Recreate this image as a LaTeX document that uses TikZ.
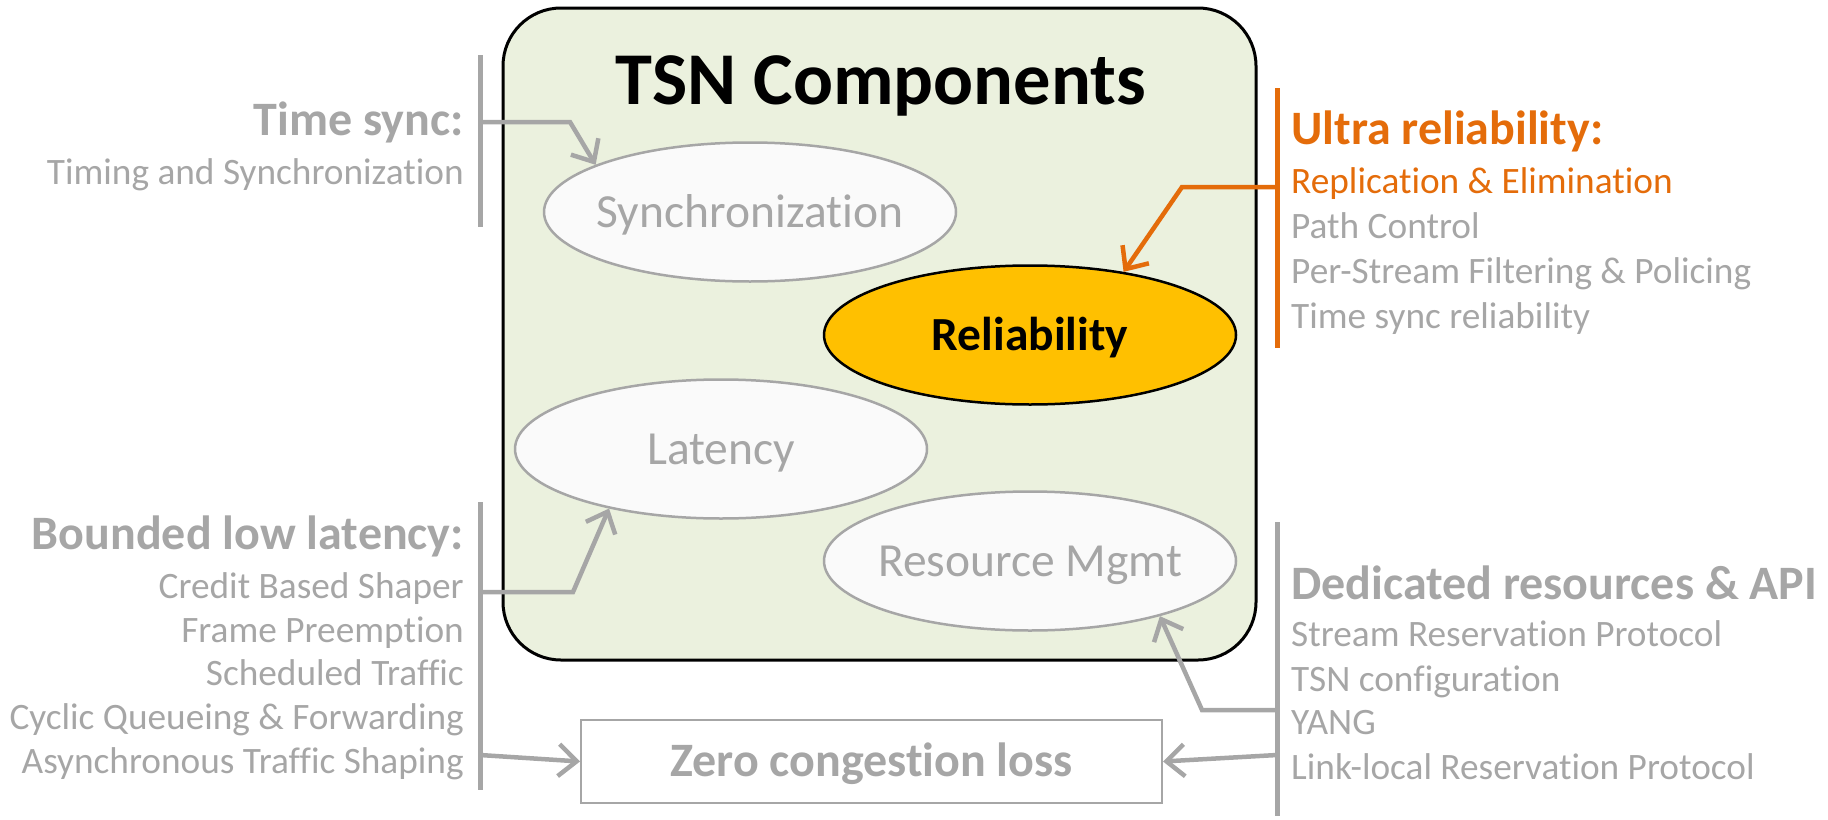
\documentclass[tikz,border=0pt]{standalone}
\usepackage{fontspec}
\setmainfont{Carlito}[Ligatures=NoCommon]
\usetikzlibrary{shapes.geometric,arrows.meta}
\definecolor{gry}{HTML}{A6A6A6}
\definecolor{org}{HTML}{E46C0A}
\definecolor{boxgreen}{HTML}{EBF1DE}
\definecolor{gold}{HTML}{FFC000}
\definecolor{ellfill}{HTML}{FAFAFA}
\begin{document}
\begin{tikzpicture}[x=1pt,y=-1pt,
  head/.style={inner sep=0pt, text height=35pt, text depth=5pt, font=\fontsize{48}{50}\selectfont\bfseries},
  item/.style={inner sep=0pt, text height=28pt, text depth=4pt, font=\fontsize{37.3}{40}\selectfont, text=gry},
  comp/.style={ellipse, draw=gry, line width=2.5pt, fill=ellfill, inner sep=0pt, minimum width=412pt, minimum height=139pt, text height=35pt, text depth=5pt, font=\fontsize{47.5}{50}\selectfont, text=gry},
  bar/.style={line width=5pt, draw=gry},
  conn/.style={line width=4.5pt, draw=gry, -{Straight Barb[length=18pt,width=32pt]}},
]
\useasboundingbox (0,0) rectangle (1828,819);

% main box
\node[draw=black, line width=3pt, fill=boxgreen, rounded corners=58pt, minimum width=753pt, minimum height=652pt] (main) at (879.5,334) {};
\node[inner sep=0pt, text height=55pt, text depth=8pt, font=\fontsize{74.5}{78}\selectfont\bfseries] (title) at (881,81) {TSN Components};

% components
\node[comp] (sync) at (750,212) {\makebox[0pt]{Synchronization}};
\node[comp, fill=gold, draw=black, text=black, font=\fontsize{47.5}{50}\selectfont\bfseries] (rel) at (1030,335) {\makebox[0pt]{Reliability}};
\node[comp] (lat) at (721,449) {\makebox[0pt]{Latency}};
\node[comp] (res) at (1030,561) {\makebox[0pt]{Resource Mgmt}};

% zero congestion loss
\node[draw=gry, line width=2pt, minimum width=581pt, minimum height=83pt, inner sep=0pt, text height=35pt, text depth=5pt, font=\fontsize{48}{50}\selectfont\bfseries, text=gry] (zero) at (871.5,761.5) {Zero congestion loss};

% bars
\coordinate (b1t) at (480,55);  \coordinate (b1b) at (480,227);
\coordinate (b2t) at (480,502); \coordinate (b2b) at (480,790);
\coordinate (b3t) at (1277,88); \coordinate (b3b) at (1277,348);
\coordinate (b4t) at (1277,522);\coordinate (b4b) at (1277,816);
\draw[bar] (b1t) -- (b1b);
\draw[bar] (b2t) -- (b2b);
\draw[bar, draw=org] (b3t) -- (b3b);
\draw[bar] (b4t) -- (b4b);

% left texts
\node[head, text=gry, anchor=east] (ts) at (464,120) {Time sync:};
\node[item, anchor=east] (tsa) at (464,172) {Timing and Synchronization};
\node[head, text=gry, anchor=east] (bl) at (464,534) {Bounded low latency:};
\node[item, anchor=east] (bl1) at (464,586) {Credit Based Shaper};
\node[item, anchor=east] (bl2) at (464,630) {Frame Preemption};
\node[item, anchor=east] (bl3) at (464,673) {Scheduled Traffic};
\node[item, anchor=east] (bl4) at (464,717) {Cyclic Queueing \& Forwarding};
\node[item, anchor=east] (bl5) at (464,761) {Asynchronous Traffic Shaping};

% right texts
\node[head, text=org, anchor=west] (ur) at (1291,129) {Ultra reliability:};
\node[item, text=org, anchor=west] (ur1) at (1291,181) {Replication \& Elimination};
\node[item, anchor=west] (ur2) at (1291,226) {Path Control};
\node[item, anchor=west] (ur3) at (1291,271) {Per-Stream Filtering \& Policing};
\node[item, anchor=west] (ur4) at (1291,316) {Time sync reliability};
\node[head, text=gry, anchor=west] (dr) at (1291,584) {Dedicated resources \& API};
\node[item, anchor=west] (dr1) at (1291,634) {Stream Reservation Protocol};
\node[item, anchor=west] (dr2) at (1291,679) {TSN configuration};
\node[item, anchor=west] (dr3) at (1291,722) {YANG};
\node[item, anchor=west] (dr4) at (1291,767) {Link-local Reservation Protocol};

% connectors
\coordinate (tsj) at (480,122);
\coordinate (blj) at (480,592);
\coordinate (atj) at (480,755);
\coordinate (lrj) at (1277,755);
\coordinate (yj)  at (1277,710);
\coordinate (rej) at (1277,187);
\draw[conn] (tsj) -- (570,122) -- (sync.163);
\draw[conn] (blj) -- (573,592) -- (lat.208);
\draw[conn] (atj) -- (zero.west);
\draw[conn] (lrj) -- (zero.east);
\draw[conn] (yj) -- (1202,710) -- (res.337.5);
\draw[conn, draw=org] (rej) -- (1182,187) -- (rel.34);
\end{tikzpicture}
\end{document}
